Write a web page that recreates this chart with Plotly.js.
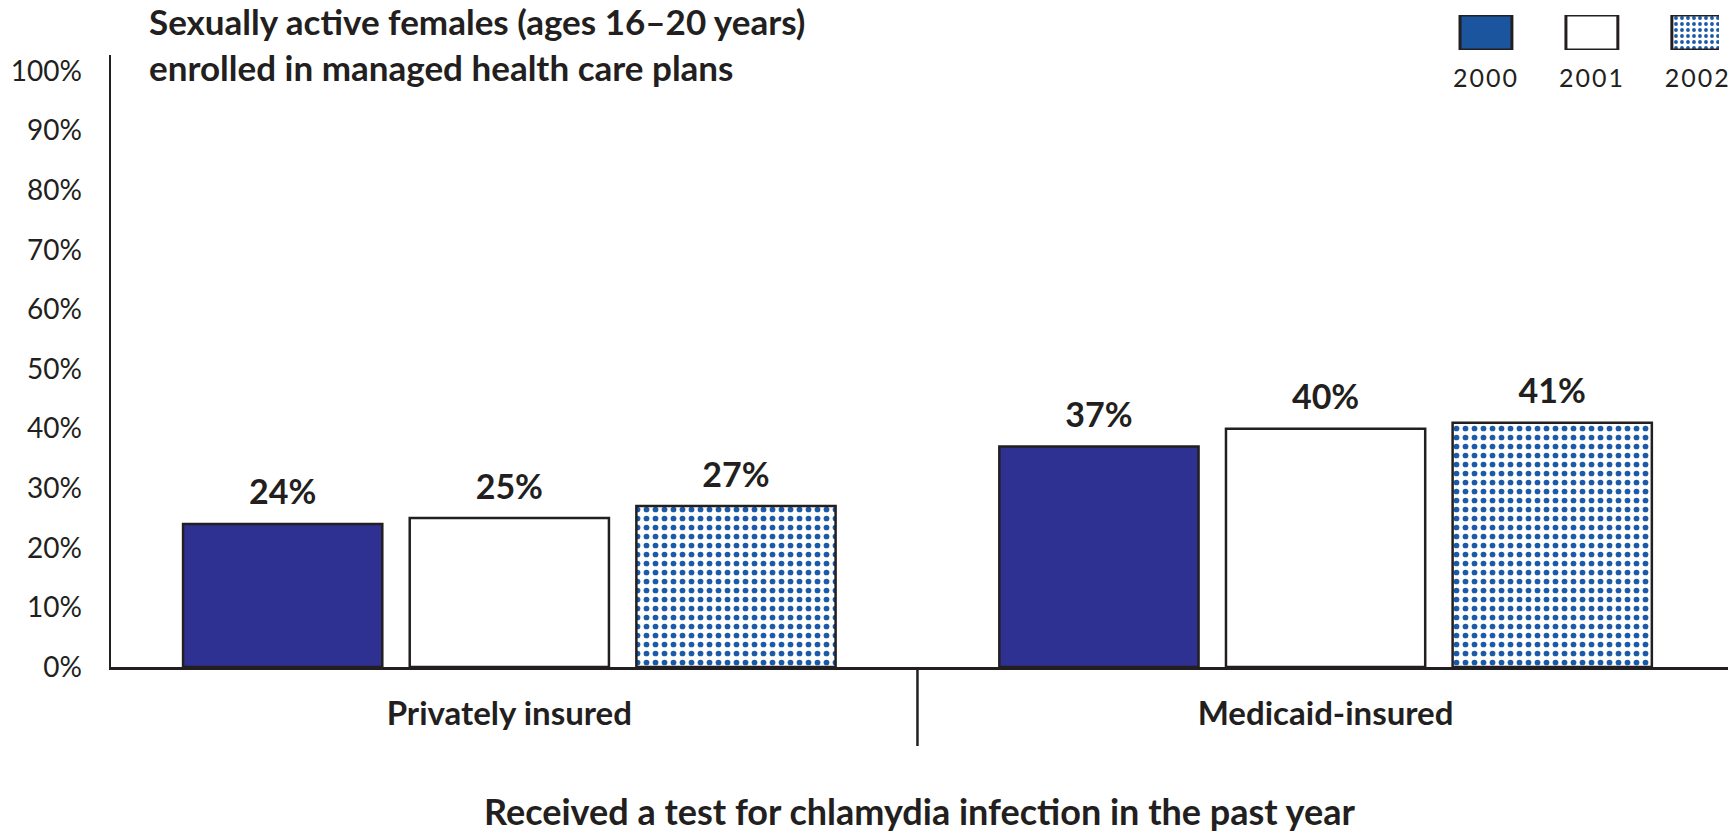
<!DOCTYPE html>
<html>
<head>
<meta charset="utf-8">
<script src="https://cdn.plot.ly/plotly-3.0.1.min.js"></script>
<style>
html,body{margin:0;padding:0;background:#fff;}
#chart{width:1734px;height:833px;}
.x2tick text{letter-spacing:2px;}
</style>
</head>
<body>
<div id="chart"></div>
<script>
// ---- data ----
const categories = ["Privately insured", "Medicaid-insured"];
const years = ["2000", "2001", "2002"];
const values2000 = [24, 37];
const values2001 = [25, 40];
const values2002 = [27, 41];
const yTicks = [0, 10, 20, 30, 40, 50, 60, 70, 80, 90, 100];
const yTickLabels = ["0%", "10%", "20%", "30%", "40%", "50%", "60%", "70%", "80%", "90%", "100%"];
const titleText = "Sexually active females (ages 16–20 years)<br>enrolled in managed health care plans";
const xTitleText = "Received a test for chlamydia infection in the past year";

// ---- styles ----
const INK = "#231f20";
const NAVY = "#2e3192";
const LEG_BLUE = "#1a559e";
const PAT_BLUE = "#1b5aa8";
const FONT = "Lato, 'Open Sans', sans-serif";

const dotPattern = (size) => ({shape: ".", fgcolor: PAT_BLUE, bgcolor: "#ffffff", size: size, solidity: 0.32, fillmode: "replace"});

const series = [
  {name: years[0], y: values2000, color: NAVY, legColor: LEG_BLUE, pattern: false},
  {name: years[1], y: values2001, color: "#ffffff", legColor: "#ffffff", pattern: false},
  {name: years[2], y: values2002, color: "#ffffff", legColor: "#ffffff", pattern: true}
];

const traces = [];
series.forEach(s => {
  const marker = {color: s.color, line: {color: INK, width: 2.5}};
  if (s.pattern) marker.pattern = dotPattern(9);
  traces.push({
    type: "bar", name: s.name, x: categories, y: s.y,
    marker: marker, offsetgroup: s.name, showlegend: false, hoverinfo: "x+y"
  });
});
series.forEach(s => {
  traces.push({
    type: "scatter", mode: "markers+text", name: s.name + " label",
    x: categories, y: s.y, offsetgroup: s.name,
    text: s.y.map(v => v + "%"), textposition: "top center",
    textfont: {family: FONT, size: 34, color: INK, weight: 700},
    marker: {size: 16, opacity: 0}, showlegend: false, hoverinfo: "skip", cliponaxis: false
  });
});
// legend swatches drawn as a small inset bar chart
series.forEach(s => {
  const marker = {color: s.legColor, line: {color: INK, width: 3}};
  if (s.pattern) marker.pattern = dotPattern(6);
  traces.push({
    type: "bar", name: s.name + " key", x: [s.name], y: [1], xaxis: "x2", yaxis: "y2",
    width: 0.49, offsetgroup: "key", marker: marker, showlegend: false, hoverinfo: "x"
  });
});

const W = 1734, H = 833;
const layout = {
  width: W, height: H,
  margin: {l: 0, r: 0, t: 0, b: 0, pad: 0},
  paper_bgcolor: "#fff", plot_bgcolor: "rgba(0,0,0,0)",
  font: {family: FONT, color: INK},
  barmode: "group", bargap: 0.167, bargroupgap: 0.121,
  scattermode: "group", scattergap: 0.167,
  showlegend: false,
  title: {
    text: titleText, x: 149 / W, xanchor: "left", xref: "paper",
    y: 1 - 35 / H, yanchor: "top", yref: "paper",
    font: {family: FONT, size: 35, color: INK, weight: 700}
  },
  xaxis: {
    domain: [111 / W, 1728 / W], range: [-0.488, 1.493], type: "category",
    showline: true, linecolor: INK, linewidth: 2.5, ticks: "", showgrid: false, zeroline: false,
    tickfont: {family: FONT, size: 33, color: INK, weight: 700}, ticklabelstandoff: 16,
    title: {text: xTitleText, font: {family: FONT, size: 36, color: INK, weight: 700}, standoff: 74},
    automargin: false, fixedrange: true
  },
  yaxis: {
    domain: [(H - 667) / H, (H - 55) / H], range: [0, 102.7],
    tickvals: yTicks, ticktext: yTickLabels, showgrid: false, zeroline: false,
    showline: true, linecolor: INK, linewidth: 2.5, ticks: "",
    tickfont: {family: FONT, size: 28, color: INK}, ticklabelstandoff: 21,
    automargin: false, fixedrange: true
  },
  xaxis2: {
    domain: [1433 / W, 1719 / W], range: [-0.5, 2.2], type: "category", anchor: "y2",
    categoryorder: "array", categoryarray: years,
    showline: false, ticks: "", showgrid: false, zeroline: false,
    tickfont: {family: FONT, size: 25, color: INK}, ticklabelstandoff: 11, fixedrange: true
  },
  yaxis2: {
    domain: [(H - 50) / H, (H - 15) / H], range: [0, 1], anchor: "x2",
    visible: false, fixedrange: true
  },
  shapes: [{
    type: "line", xref: "x", yref: "paper", x0: 0.5, x1: 0.5,
    y0: (H - 667) / H, y1: (H - 746) / H, line: {color: INK, width: 2.5}
  }]
};

Plotly.newPlot("chart", traces, layout, {displayModeBar: false, staticPlot: true});
</script>
</body>
</html>
